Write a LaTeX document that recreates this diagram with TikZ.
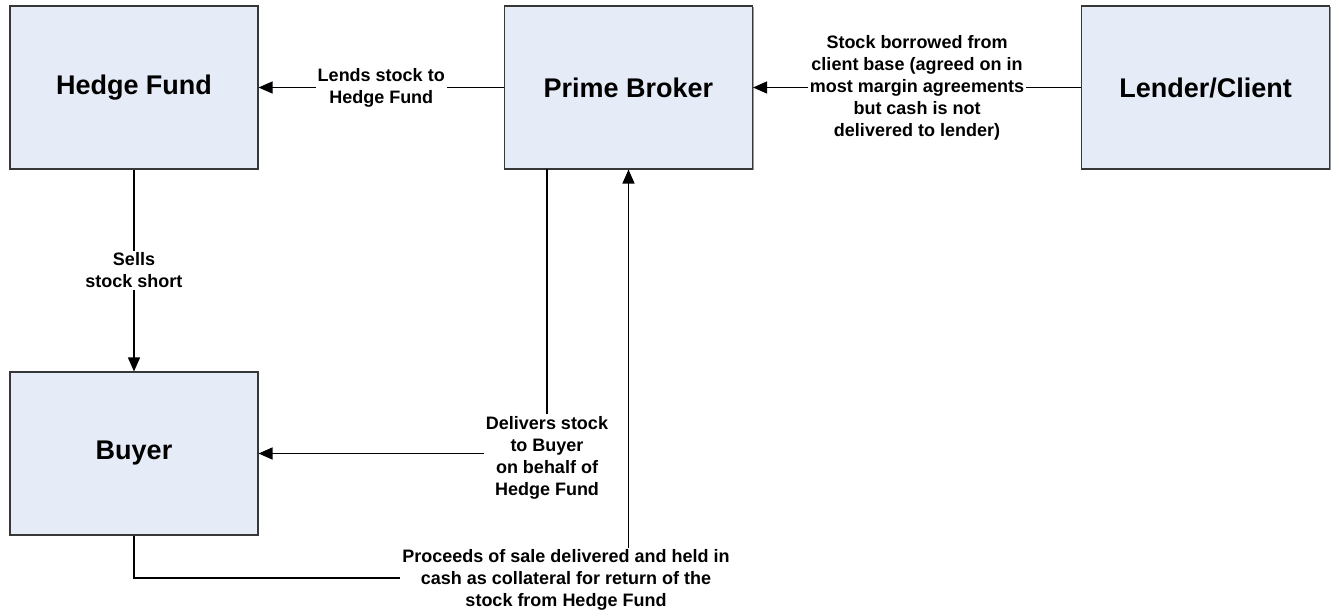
\documentclass[tikz,border=0pt]{standalone}
\usepackage{fontspec}
\setmainfont{Liberation Sans}
\usetikzlibrary{arrows.meta,shadows}

\definecolor{boxfill}{RGB}{230,236,247}
\definecolor{boxline}{RGB}{55,55,55}

\begin{document}
\begin{tikzpicture}[x=1pt,y=-1pt,
  party/.style={draw=boxline, line width=1.1pt, fill=boxfill,
    minimum width=248pt, minimum height=163pt, inner sep=0pt,
    font=\fontsize{27}{32}\selectfont\bfseries,
    drop shadow={shadow xshift=1.2pt, shadow yshift=-1.2pt, fill=black!40, opacity=1}},
  flow/.style={draw=black, line width=1.4pt, -{Triangle[length=14pt,width=12pt]}},
  flowlabel/.style={fill=white, align=center, inner sep=2pt,
    font=\fontsize{18}{22}\selectfont\bfseries}]

  \useasboundingbox (0,0) rectangle (1333,610);

  % parties
  \node[party] (hf)    at (134,87.5)    {Hedge Fund};
  \node[party] (pb)    at (628.5,87.5)  {Prime Broker};
  \node[party] (lc)    at (1205.5,87.5) {Lender/Client};
  \node[party] (buyer) at (134,453.5)   {Buyer};

  % connector end points
  \coordinate (pbdeliver) at (547,169);
  \coordinate (cashturn)  at (628.5,578);

  % top row: stock lending
  \draw[flow] (pb.west) -- (hf.east)
    node[midway, flowlabel] (lend) {Lends stock to\\Hedge Fund};
  \draw[flow] (lc.west) -- (pb.east)
    node[midway, flowlabel] (borrow) {Stock borrowed from\\client base (agreed on in\\most margin agreements\\but cash is not\\delivered to lender)};

  % short sale
  \draw[flow] (hf.south) -- (buyer.north)
    node[midway, flowlabel] (sells) {Sells\\stock short};

  % delivery of the stock
  \draw[flow] (pbdeliver) |- (buyer.east)
    node[pos=0.5, flowlabel, yshift=-4pt] (deliver) {Delivers stock\\to Buyer\\on behalf of\\Hedge Fund};

  % proceeds back to the prime broker
  \draw[flow] (buyer.south) |- (cashturn) -- (pb.south);
  \node[flowlabel] (proceeds) at (566,580) {Proceeds of sale delivered and held in\\cash as collateral for return of the\\stock from Hedge Fund};
\end{tikzpicture}
\end{document}
